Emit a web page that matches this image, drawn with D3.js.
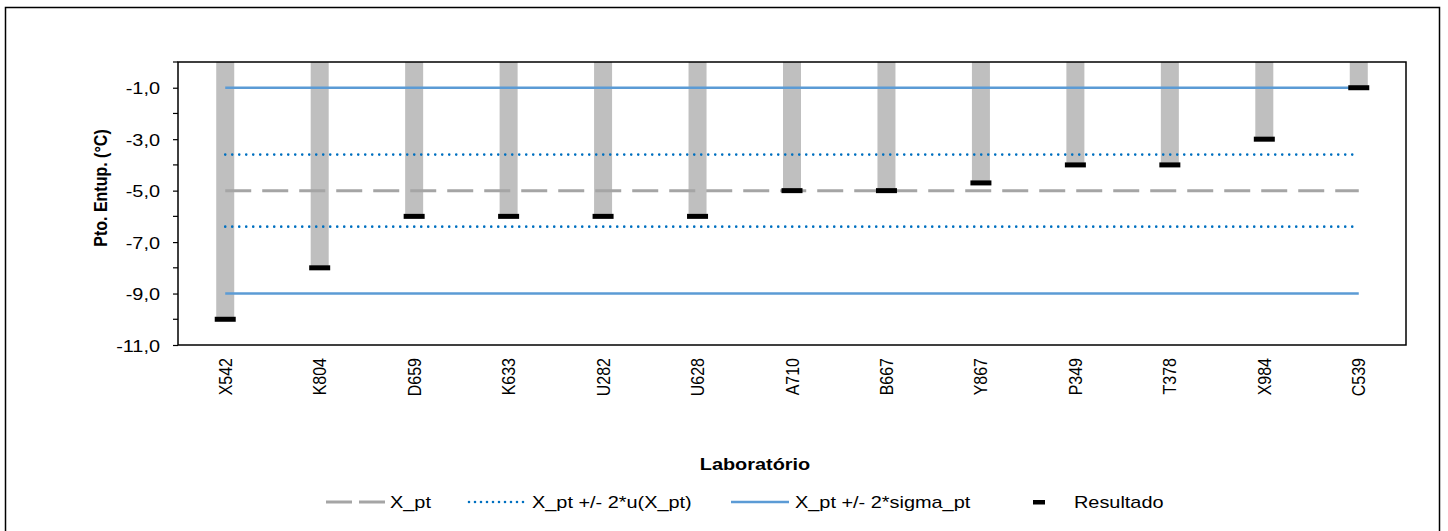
<!DOCTYPE html>
<html>
<head>
<meta charset="utf-8">
<script src="https://cdn.jsdelivr.net/npm/d3@7"></script>
<style>
  body { margin: 0; background: #fff; }
  text { font-family: Arial, "Liberation Sans", sans-serif; fill: #000; }
</style>
</head>
<body>
<script>
const width = 1448, height = 531;
const margin = {left: 178, right: 42, top: 62, bottom: 186};
const sx = 1.17; // the original is a little wider than tall

const labs = ['X542', 'K804', 'D659', 'K633', 'U282', 'U628', 'A710', 'B667', 'Y867', 'P349', 'T378', 'X984', 'C539'];
const results = [-10, -8, -6, -6, -6, -6, -5, -5, -4.7, -4, -4, -3, -1];
const xPt = -5;
const uBand = [-3.6, -6.4];
const sigmaBand = [-1, -9];
const yTicks = [-11, -9, -7, -5, -3, -1];
const yMinor = [-10, -8, -6, -4, -2, 0];

const svg = d3.select('body').append('svg')
    .attr('width', width)
    .attr('height', height);

// outer chart frame
svg.append('rect')
    .attr('x', 5.5).attr('y', 7.5)
    .attr('width', 1434).attr('height', 530)
    .attr('fill', 'none').attr('stroke', '#000').attr('stroke-width', 1.5);

const x = d3.scaleBand().domain(labs).range([margin.left, width - margin.right]);
const y = d3.scaleLinear().domain([-11, 0]).range([height - margin.bottom, margin.top]);

const y0 = y(0), y1 = y(-11);

// bars from 0 down to result
svg.append('g').selectAll('rect')
    .data(labs)
    .join('rect')
    .attr('x', d => x(d) + x.bandwidth() / 2 - 9)
    .attr('y', y(0))
    .attr('width', 18)
    .attr('height', (d, i) => y(results[i]) - y(0))
    .attr('fill', '#bfbfbf');

// reference lines
const xStart = x(labs[0]) + x.bandwidth() / 2;
const xEnd = x(labs[labs.length - 1]) + x.bandwidth() / 2;

function hline(v, color, w, dash, cap) {
    svg.append('line')
        .attr('x1', xStart).attr('x2', xEnd)
        .attr('y1', y(v)).attr('y2', y(v))
        .attr('stroke', color)
        .attr('stroke-width', w)
        .attr('stroke-linecap', cap || 'butt')
        .attr('stroke-dasharray', dash);
}
sigmaBand.forEach(v => hline(v, '#5b9bd5', 2.5, null));
uBand.forEach(v => hline(v, '#0070c0', 2.6, '0,7', 'round'));
hline(xPt, '#a5a5a5', 3, '26,11');

// result markers
svg.append('g').selectAll('rect')
    .data(labs)
    .join('rect')
    .attr('x', d => x(d) + x.bandwidth() / 2 - 10.5)
    .attr('y', (d, i) => y(results[i]) - 2.5)
    .attr('width', 21)
    .attr('height', 5)
    .attr('fill', '#000');

// plot frame
svg.append('rect')
    .attr('x', margin.left).attr('y', y0)
    .attr('width', width - margin.right - margin.left)
    .attr('height', y1 - y0)
    .attr('fill', 'none').attr('stroke', '#000').attr('stroke-width', 1.5);

// y axis
const yAxis = d3.axisLeft(y).tickValues(yTicks).tickSize(5)
    .tickFormat(d => d3.format('.1f')(d).replace('.', ',').replace('−', '-'));
const gy = svg.append('g')
    .attr('transform', 'translate(' + margin.left + ',0)')
    .call(yAxis);
gy.select('.domain').remove();
gy.selectAll('text')
    .attr('x', 0)
    .attr('dy', '0.36em')
    .attr('transform', 'translate(-18,0) scale(' + sx + ',1)')
    .style('font-size', '17px')
    .style('font-family', 'Arial, "Liberation Sans", sans-serif');
gy.selectAll('line').attr('stroke-width', 1.2);

svg.append('g').selectAll('line')
    .data(yMinor)
    .join('line')
    .attr('x1', margin.left - 5).attr('x2', margin.left)
    .attr('y1', d => y(d)).attr('y2', d => y(d))
    .attr('stroke', '#000').attr('stroke-width', 1.2);

// x axis labels
const gx = svg.append('g')
    .attr('transform', 'translate(0,' + y1 + ')')
    .call(d3.axisBottom(x).tickSize(0).tickPadding(0));
gx.select('.domain').remove();
gx.selectAll('text')
    .attr('x', 0).attr('y', 0).attr('dy', '0.35em')
    .attr('transform', 'translate(0,13) scale(' + sx + ',1) rotate(-90)')
    .attr('text-anchor', 'end')
    .style('font-size', '16px')
    .style('font-family', 'Arial, "Liberation Sans", sans-serif');

// axis titles
svg.append('text')
    .attr('transform', 'translate(107,188) scale(' + sx + ',1) rotate(-90)')
    .attr('text-anchor', 'middle')
    .style('font-size', '16px').style('font-weight', 'bold')
    .text('Pto. Entup. (°C)');

svg.append('text')
    .attr('transform', 'translate(755,470) scale(' + sx + ',1)')
    .attr('text-anchor', 'middle')
    .style('font-size', '17px').style('font-weight', 'bold')
    .text('Laboratório');

// legend
const ly = 502;
const legend = svg.append('g');
function legendText(x0, t) {
    legend.append('text')
        .attr('transform', 'translate(' + x0 + ',' + (ly + 6) + ') scale(' + sx + ',1)')
        .style('font-size', '17px')
        .text(t);
}
legend.append('line').attr('x1', 326).attr('x2', 385).attr('y1', ly).attr('y2', ly)
    .attr('stroke', '#a5a5a5').attr('stroke-width', 3).attr('stroke-dasharray', '26,7');
legendText(390, 'X_pt');

legend.append('line').attr('x1', 469).attr('x2', 528).attr('y1', ly).attr('y2', ly)
    .attr('stroke', '#0070c0').attr('stroke-width', 2.6)
    .attr('stroke-linecap', 'round').attr('stroke-dasharray', '0,6');
legendText(532, 'X_pt +/- 2*u(X_pt)');

legend.append('line').attr('x1', 731).attr('x2', 789).attr('y1', ly).attr('y2', ly)
    .attr('stroke', '#5b9bd5').attr('stroke-width', 2.5);
legendText(795, 'X_pt +/- 2*sigma_pt');

legend.append('rect').attr('x', 1033).attr('y', ly - 2).attr('width', 12).attr('height', 4.5).attr('fill', '#000');
legendText(1074, 'Resultado');
</script>
</body>
</html>
